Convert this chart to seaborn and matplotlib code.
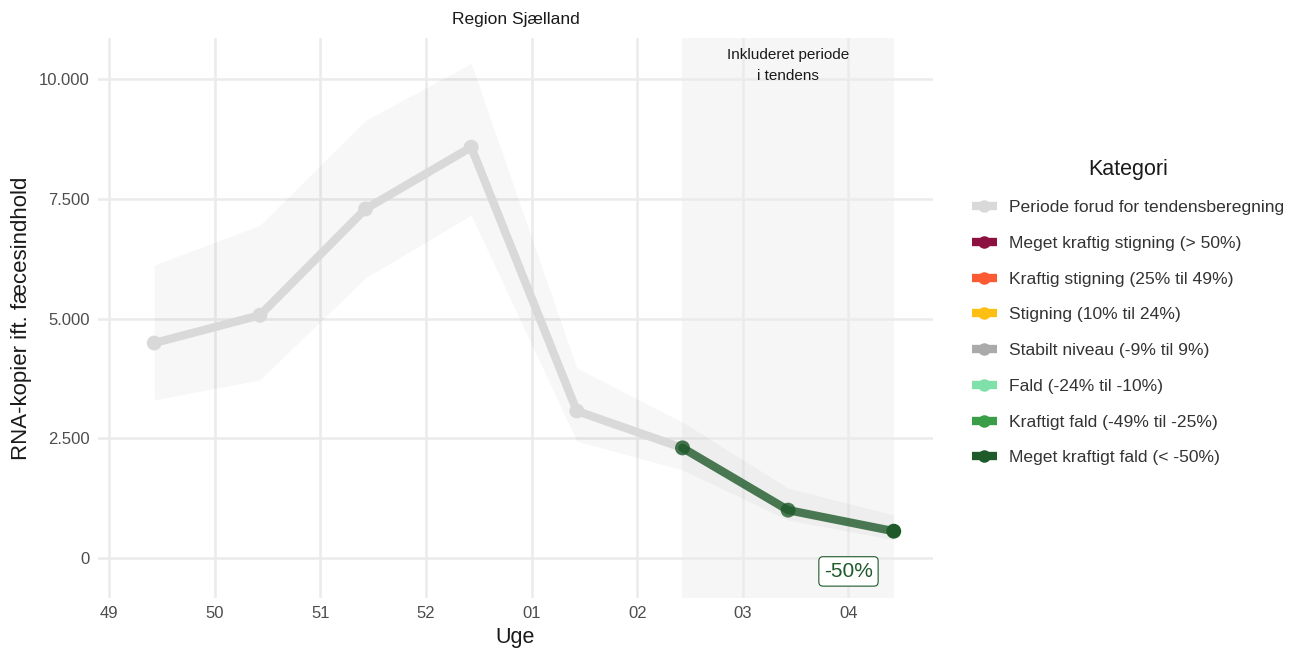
import matplotlib
matplotlib.use("Agg")

import matplotlib.pyplot as plt
from matplotlib.lines import Line2D
import numpy as np
import pandas as pd
import seaborn as sns

# ─── DATA ────────────────────────────────────────────────────────
WEEK_LABELS = ["49", "50", "51", "52", "01", "02", "03", "04"]
VALUES      = [4490, 5070, 7290, 8580, 3070, 2300, 1000, 560]
LOWER       = [3300, 3720, 5850, 7160, 2440, 1840, 790, 380]
UPPER       = [6120, 6950, 9140, 10330, 3970, 2840, 1460, 900]
TREND_FROM  = "02"
TREND_TO    = "04"
TREND_LABEL = "-50%"

CATEGORIES = [
    "Periode forud for tendensberegning",
    "Meget kraftig stigning (> 50%)",
    "Kraftig stigning (25% til 49%)",
    "Stigning (10% til 24%)",
    "Stabilt niveau (-9% til 9%)",
    "Fald (-24% til -10%)",
    "Kraftigt fald (-49% til -25%)",
    "Meget kraftigt fald (< -50%)",
]
CAT_COLORS = ["#d9d9d9", "#8c1040", "#fc5a32", "#fdbf11",
              "#aaaaaa", "#80e0aa", "#3a9d48", "#1e5a2a"]

# ─── STYLE ───────────────────────────────────────────────────────
sns.set_theme(style="whitegrid")
plt.rcParams["font.family"] = ["Liberation Sans", "DejaVu Sans"]

GRID  = "#ebebeb"
TICK  = "#4d4d4d"
TXT   = "#1a1a1a"
TREND = CAT_COLORS[-1]

# data sits mid-week (Thursday) relative to the week ticks
OFFSET = 3 / 7
df = pd.DataFrame({
    "week": WEEK_LABELS,
    "x": np.arange(len(WEEK_LABELS)) + OFFSET,
    "value": VALUES,
    "lo": LOWER,
    "hi": UPPER,
})
i0 = WEEK_LABELS.index(TREND_FROM)
i1 = WEEK_LABELS.index(TREND_TO)
pre   = df.iloc[: i0 + 1]
trend = df.iloc[i0: i1 + 1]

fig = plt.figure(figsize=(12.97, 6.48), dpi=100, facecolor="white")
ax = fig.add_axes([98 / 1297, 50 / 648, (933 - 98) / 1297, (598 - 38) / 648])
ax.set_facecolor("white")
ax.set_axisbelow(True)

# trend period shading
ax.axvspan(trend["x"].iloc[0], trend["x"].iloc[-1], color="#f6f6f6", zorder=0.1, lw=0)
ax.text((trend["x"].iloc[0] + trend["x"].iloc[-1]) / 2, 10650,
        "Inkluderet periode\ni tendens", ha="center", va="top",
        fontsize=11, color=TXT, linespacing=1.6)

# confidence ribbon
ax.fill_between(df["x"], df["lo"], df["hi"], color="black", alpha=0.03, lw=0, zorder=1)

# lines and points
sns.lineplot(data=pre, x="x", y="value", color=CAT_COLORS[0], lw=6,
             solid_capstyle="round", ax=ax, zorder=2)
sns.scatterplot(data=pre, x="x", y="value", color=CAT_COLORS[0], s=115,
                edgecolor="none", ax=ax, zorder=3)
sns.lineplot(data=trend, x="x", y="value", color=TREND, alpha=0.8, lw=6,
             solid_capstyle="round", ax=ax, zorder=4)
sns.scatterplot(data=trend.iloc[:-1], x="x", y="value", color=TREND, alpha=0.8,
                s=115, edgecolor="none", ax=ax, zorder=5)
sns.scatterplot(data=trend.iloc[-1:], x="x", y="value", color=TREND, s=115,
                edgecolor="none", ax=ax, zorder=6)

ax.text(df["x"].iloc[-1] - OFFSET, -280, TREND_LABEL, ha="center", va="center",
        fontsize=15, color=TREND,
        bbox=dict(boxstyle="round,pad=0.25,rounding_size=0.2", fc="white",
                  ec=TREND, lw=0.8))

# axes
ax.set_xlim(-0.104, 7.80)
ax.set_ylim(-835, 10860)
ax.set_xticks(np.arange(len(WEEK_LABELS)))
ax.set_xticklabels(WEEK_LABELS)
yt = [0, 2500, 5000, 7500, 10000]
ax.set_yticks(yt)
ax.set_yticklabels([f"{v:,}".replace(",", ".") for v in yt])
ax.tick_params(colors=TICK, labelsize=12, length=0, pad=6)
ax.grid(True, color=GRID, lw=1.8)
for s in ax.spines.values():
    s.set_visible(False)
ax.set_xlabel("Uge", fontsize=15.5, color=TXT, labelpad=4)
ax.set_ylabel("RNA-kopier ift. fæcesindhold", fontsize=16, color=TXT, labelpad=5)
ax.set_title("Region Sjælland", fontsize=12.5, color=TXT, pad=10)

# legend
handles = [Line2D([0], [0], color=c, lw=6, marker="o", markersize=9,
                  markeredgecolor="none", solid_capstyle="butt") for c in CAT_COLORS]
leg = fig.legend(handles, CATEGORIES, title="Kategori", loc="center left",
                 bbox_to_anchor=(956 / 1297, 1 - 312 / 648), frameon=False,
                 fontsize=12.6, title_fontsize=15.5, labelspacing=1.17,
                 handlelength=1.45, handletextpad=0.7)
for t in leg.get_texts():
    t.set_color("#333333")
leg.get_title().set_color(TXT)

fig.savefig("out.png", dpi=100, facecolor="white")
